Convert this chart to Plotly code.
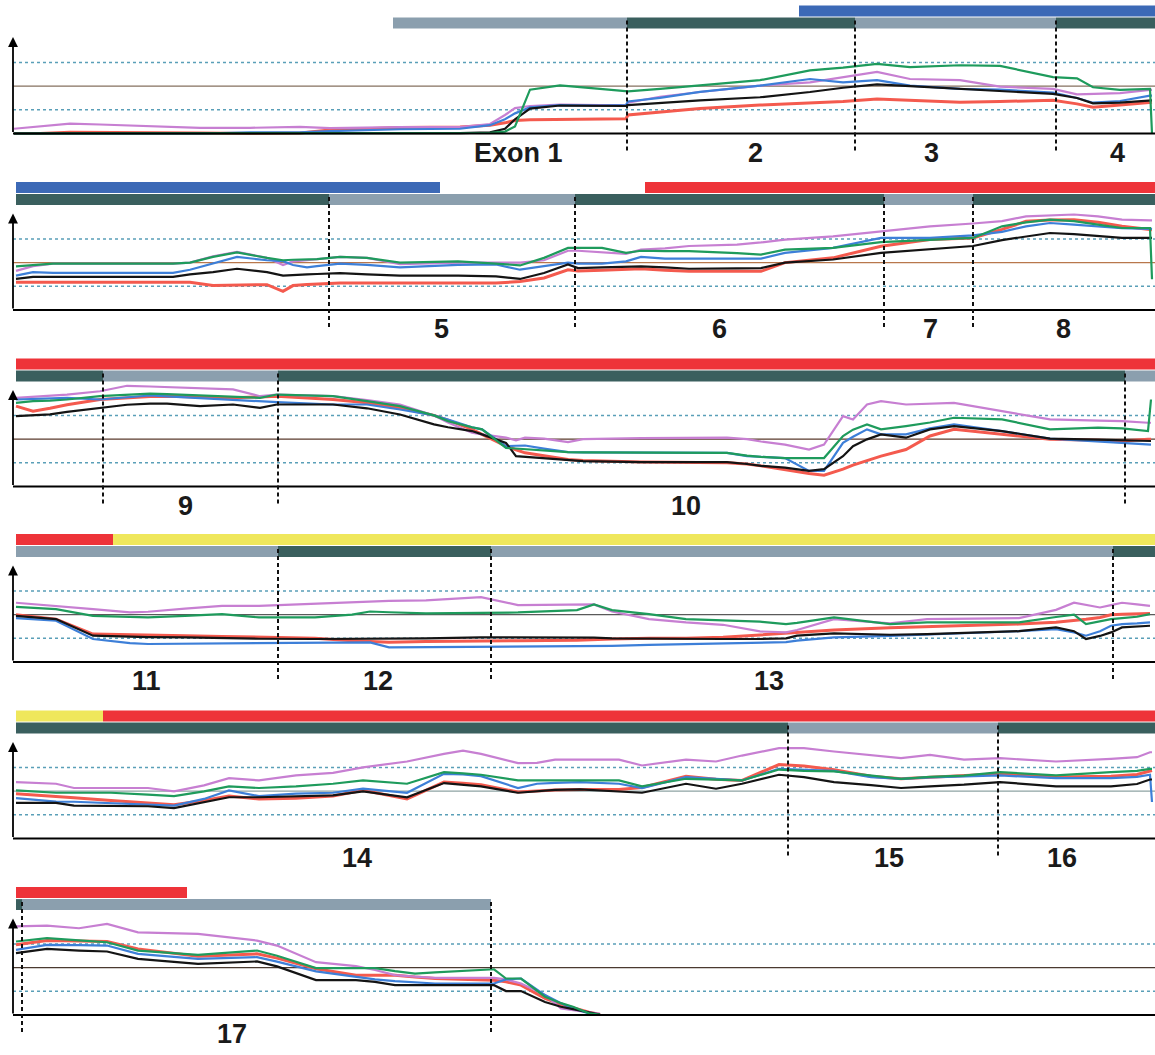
import plotly.graph_objects as go

# ======================= DATA =======================
# Position along the gene (common x units) and signal level (dotted = 1 and 3, solid = 2)

# ---- Panel 1: Exon 1 - 4
P1_X = [14, 40, 70, 100, 150, 200, 250, 300, 330, 400, 460, 490, 505, 515, 530, 560, 600, 626, 628, 660,
        700, 760, 810, 843, 877, 910, 960, 1000, 1053, 1077, 1093, 1120, 1150, 1152]
P1_VIOLET = [0.2, 0.3, 0.42, 0.38, 0.32, 0.24, 0.24, 0.28, 0.23, 0.27, 0.27, 0.4, 0.78, 1.07, 1.16, 1.22, 1.2, 1.2, 1.3, 1.55,
             1.75, 2.02, 2.16, 2.38, 2.6, 2.3, 2.25, 1.98, 1.88, 1.65, 1.68, 1.7, 1.84, 1.84]
P1_GREEN = [0, 0, 0, 0, 0, 0, 0, 0, 0, 0, 0.02, 0.03, 0.08, 0.3, 1.85, 2.03, 1.88, 1.78, 1.78, 1.88,
            2.03, 2.25, 2.66, 2.78, 2.94, 2.8, 2.88, 2.85, 2.38, 2.33, 1.95, 1.84, 1.88, 0]
P1_BLUE = [0, 0, 0, 0, 0, 0, 0.05, 0.05, 0.1, 0.18, 0.2, 0.35, 0.6, 0.85, 1.1, 1.2, 1.18, 1.2, 1.35, 1.5,
           1.76, 2.02, 2.3, 2.16, 2.25, 2.02, 1.88, 1.85, 1.73, 1.5, 1.3, 1.37, 1.6, 1.6]
P1_BLACK = [0, 0, 0, 0, 0, 0, 0, 0, 0, 0, 0.02, 0.05, 0.2, 0.6, 1.05, 1.18, 1.16, 1.16, 1.2, 1.3,
            1.4, 1.53, 1.75, 1.93, 2.07, 2.0, 1.88, 1.8, 1.67, 1.5, 1.27, 1.3, 1.4, 1.4]
P1_RED = [0, 0, 0.05, 0.05, 0.05, 0.02, 0, 0.02, 0.15, 0.25, 0.27, 0.35, 0.45, 0.55, 0.58, 0.6, 0.62, 0.62, 0.78, 0.9,
          1.05, 1.2, 1.3, 1.35, 1.46, 1.4, 1.32, 1.35, 1.4, 1.25, 1.11, 1.2, 1.32, 1.32]
P1_LOWER = [(393, 627, "light"), (627, 855, "dark"), (855, 1056, "light"), (1056, 1155, "dark")]
P1_UPPER = [(799, 1155, "blue")]
P1_BOUNDS = [627, 855, 1056]
P1_LABELS = ["Exon 1", "2", "3", "4"]
P1_LABEL_X = [518, 755, 931, 1117]

# ---- Panel 2: Exon 5 - 8
P2_X = [16, 33, 53, 173, 190, 213, 237, 267, 283, 293, 307, 317, 340, 367, 400, 458, 496, 520, 544, 568,
        578, 602, 626, 641, 665, 689, 737, 761, 785, 833, 881, 930, 973, 1002, 1026, 1050, 1074, 1098, 1122, 1150, 1152]
P2_GREEN = [1.84, 1.9, 1.96, 1.96, 2.0, 2.24, 2.43, 2.2, 2.1, 2.12, 2.13, 2.15, 2.24, 2.2, 2.0, 2.05, 1.96, 1.88, 2.2, 2.62,
            2.62, 2.62, 2.41, 2.5, 2.48, 2.48, 2.4, 2.34, 2.55, 2.62, 2.86, 2.97, 3.04, 3.53, 3.7, 3.81, 3.75, 3.6, 3.46, 3.46, 1.3]
P2_VIOLET = [1.65, 1.85, 1.96, 1.96, 2.0, 2.27, 2.45, 2.2, 1.9, 2.05, 2.1, 2.15, 2.24, 2.2, 1.93, 2.0, 2.0, 2.0, 2.1, 2.5,
             2.5, 2.45, 2.37, 2.55, 2.6, 2.7, 2.76, 2.85, 2.97, 3.11, 3.32, 3.53, 3.65, 3.75, 3.95, 4.0, 4.03, 3.95, 3.81, 3.78, 3.78]
P2_BLUE = [1.45, 1.6, 1.57, 1.57, 1.7, 1.96, 2.24, 2.1, 2.06, 1.9, 1.8, 1.85, 1.96, 1.9, 1.8, 1.9, 1.92, 1.7, 1.85, 2.0,
           1.96, 1.96, 2.05, 2.24, 2.17, 2.17, 2.17, 2.17, 2.41, 2.62, 3.04, 3.04, 3.15, 3.3, 3.53, 3.67, 3.6, 3.53, 3.45, 3.42, 3.42]
P2_BLACK = [1.31, 1.4, 1.4, 1.4, 1.5, 1.6, 1.74, 1.6, 1.45, 1.48, 1.5, 1.52, 1.56, 1.5, 1.45, 1.45, 1.42, 1.31, 1.56, 1.92,
            1.77, 1.8, 1.82, 1.84, 1.8, 1.74, 1.76, 1.77, 2.0, 2.13, 2.41, 2.55, 2.7, 2.95, 3.11, 3.25, 3.2, 3.11, 3.04, 3.04, 3.04]
P2_RED = [1.17, 1.17, 1.17, 1.17, 1.17, 1.03, 1.05, 1.07, 0.79, 1.03, 1.08, 1.1, 1.14, 1.14, 1.14, 1.14, 1.14, 1.2, 1.35, 1.7,
          1.65, 1.68, 1.72, 1.74, 1.68, 1.63, 1.63, 1.63, 2.0, 2.2, 2.69, 2.97, 3.04, 3.4, 3.74, 3.8, 3.81, 3.7, 3.53, 3.39, 3.39]
P2_LOWER = [(16, 329, "dark"), (329, 575, "light"), (575, 884, "dark"), (884, 973, "light"), (973, 1155, "dark")]
P2_UPPER = [(16, 440, "blue"), (645, 1155, "red")]
P2_BOUNDS = [329, 575, 884, 973]
P2_LABELS = ["5", "6", "7", "8"]
P2_LABEL_X = [441, 719, 930, 1063]

# ---- Panel 3: Exon 9 - 10
P3_X = [16, 33, 50, 67, 100, 127, 150, 167, 200, 233, 260, 277, 333, 367, 400, 434, 448, 472, 482, 506,
        516, 525, 544, 568, 583, 641, 727, 747, 761, 785, 809, 824, 843, 853, 867, 881, 906, 930, 954, 1002,
        1050, 1098, 1122, 1148, 1151]
P3_VIOLET = [3.74, 3.78, 3.81, 3.88, 4.02, 4.25, 4.22, 4.2, 4.15, 4.1, 3.81, 3.88, 3.81, 3.65, 3.46, 3.0, 2.7, 2.27, 2.2, 2.06,
             1.95, 2.06, 2.02, 1.87, 2.0, 2.04, 2.06, 2.0, 1.9, 1.77, 1.56, 1.77, 2.97, 2.83, 3.46, 3.6, 3.46, 3.5, 3.53, 3.18,
             2.83, 2.78, 2.76, 2.69, 2.69]
P3_GREEN = [3.53, 3.6, 3.62, 3.67, 3.81, 3.88, 3.92, 3.9, 3.84, 3.8, 3.74, 3.88, 3.81, 3.6, 3.39, 3.0, 2.76, 2.5, 2.41, 1.63,
            1.6, 1.56, 1.5, 1.45, 1.44, 1.42, 1.42, 1.3, 1.25, 1.2, 1.2, 1.2, 2.13, 2.4, 2.62, 2.41, 2.55, 2.7, 2.9, 2.83,
            2.41, 2.48, 2.45, 2.34, 3.67]
P3_BLUE = [3.67, 3.7, 3.72, 3.74, 3.67, 3.75, 3.84, 3.8, 3.72, 3.67, 3.6, 3.56, 3.46, 3.46, 3.25, 3.0, 2.83, 2.5, 2.41, 1.7,
           1.72, 1.73, 1.6, 1.45, 1.44, 1.42, 1.42, 1.28, 1.25, 1.2, 0.66, 0.66, 1.84, 2.1, 2.41, 2.2, 2.2, 2.45, 2.62, 2.34,
           2.02, 1.9, 1.84, 1.77, 1.77]
P3_BLACK = [2.97, 3.0, 3.04, 3.15, 3.32, 3.45, 3.5, 3.5, 3.39, 3.46, 3.32, 3.46, 3.46, 3.3, 3.04, 2.62, 2.5, 2.34, 2.2, 1.84,
            1.28, 1.25, 1.2, 1.12, 1.07, 1.03, 1.03, 0.95, 0.87, 0.8, 0.66, 0.73, 1.28, 1.7, 1.99, 2.2, 2.06, 2.41, 2.55, 2.34,
            2.02, 1.98, 1.96, 1.92, 1.92]
P3_RED = [3.39, 3.18, 3.3, 3.45, 3.67, 3.75, 3.8, 3.81, 3.78, 3.74, 3.78, 3.81, 3.67, 3.53, 3.32, 3.0, 2.8, 2.41, 2.2, 1.7,
          1.55, 1.42, 1.3, 1.14, 1.1, 1.03, 1.0, 0.95, 0.87, 0.7, 0.55, 0.48, 0.73, 0.9, 1.1, 1.28, 1.56, 2.13, 2.41, 2.2,
          1.99, 1.95, 1.92, 1.99, 1.99]
P3_LOWER = [(16, 103, "dark"), (103, 278, "light"), (278, 1125, "dark"), (1125, 1155, "light")]
P3_UPPER = [(16, 1155, "red")]
P3_BOUNDS = [103, 278, 1125]
P3_LABELS = ["9", "10"]
P3_LABEL_X = [185, 686]

# ---- Panel 4: Exon 11 - 13
P4_X = [16, 56, 93, 130, 148, 185, 222, 259, 315, 352, 370, 389, 426, 481, 518, 577, 594, 612, 649, 686,
        723, 760, 786, 797, 834, 890, 927, 1019, 1056, 1074, 1086, 1100, 1111, 1122, 1137, 1150]
P4_VIOLET = [2.5, 2.37, 2.23, 2.09, 2.12, 2.25, 2.37, 2.37, 2.46, 2.52, 2.57, 2.58, 2.6, 2.74, 2.4, 2.43, 2.43, 2.13, 1.81, 1.67,
             1.57, 1.29, 1.25, 1.35, 1.81, 1.63, 1.81, 1.85, 2.2, 2.5, 2.4, 2.3, 2.4, 2.5, 2.43, 2.37]
P4_GREEN = [2.33, 2.23, 1.95, 1.9, 1.88, 1.95, 2.02, 1.88, 1.88, 2.0, 2.13, 2.1, 2.05, 2.07, 2.09, 2.19, 2.43, 2.19, 2.02, 1.81,
            1.74, 1.7, 1.6, 1.65, 1.88, 1.6, 1.67, 1.67, 1.9, 2.0, 1.6, 1.7, 1.81, 1.85, 1.91, 2.02]
P4_BLUE = [1.85, 1.74, 0.97, 0.8, 0.76, 0.77, 0.78, 0.79, 0.8, 0.82, 0.83, 0.62, 0.63, 0.64, 0.65, 0.65, 0.66, 0.68, 0.72, 0.76,
           0.8, 0.82, 0.84, 0.9, 1.04, 1.1, 1.15, 1.3, 1.39, 1.25, 1.11, 1.3, 1.53, 1.6, 1.63, 1.67]
P4_BLACK = [1.95, 1.81, 1.11, 1.06, 1.05, 1.04, 1.0, 0.98, 0.97, 0.97, 0.97, 0.98, 1.0, 1.04, 1.04, 1.04, 1.03, 1.0, 0.98, 0.97,
            0.97, 0.97, 1.0, 1.11, 1.21, 1.15, 1.18, 1.3, 1.46, 1.3, 0.97, 1.1, 1.25, 1.46, 1.5, 1.53]
P4_RED = [1.99, 1.81, 1.18, 1.14, 1.12, 1.11, 1.08, 1.04, 1.0, 0.9, 0.88, 0.83, 0.86, 0.9, 0.9, 0.92, 0.95, 0.97, 1.0, 1.0,
          1.04, 1.15, 1.22, 1.25, 1.35, 1.44, 1.48, 1.6, 1.68, 1.74, 1.8, 1.88, 1.99, 2.02, 2.04, 2.05]
P4_LOWER = [(16, 278, "light"), (278, 491, "dark"), (491, 1113, "light"), (1113, 1155, "dark")]
P4_UPPER = [(16, 113, "red"), (113, 1155, "yellow")]
P4_BOUNDS = [278, 491, 1113]
P4_LABELS = ["11", "12", "13"]
P4_LABEL_X = [146, 378, 769]

# ---- Panel 5: Exon 14 - 16
P5_X = [16, 56, 74, 111, 148, 174, 204, 229, 259, 296, 333, 363, 407, 444, 463, 481, 518, 537, 555, 580,
        619, 642, 686, 716, 742, 779, 804, 834, 871, 901, 930, 964, 1000, 1056, 1111, 1137, 1150, 1152]
P5_VIOLET = [2.38, 2.31, 2.13, 2.13, 2.13, 1.99, 2.24, 2.55, 2.45, 2.66, 2.77, 3.0, 3.25, 3.57, 3.71, 3.57, 3.18, 3.19, 3.33, 3.33,
             3.33, 3.08, 3.33, 3.25, 3.5, 3.81, 3.81, 3.67, 3.5, 3.39, 3.53, 3.33, 3.39, 3.25, 3.36, 3.43, 3.64, 3.64]
P5_GREEN = [2.03, 1.93, 1.93, 1.93, 1.85, 1.79, 1.99, 2.2, 2.13, 2.2, 2.31, 2.45, 2.31, 2.8, 2.75, 2.69, 2.45, 2.45, 2.45, 2.45,
            2.45, 2.2, 2.52, 2.48, 2.45, 2.91, 2.85, 2.83, 2.66, 2.52, 2.6, 2.65, 2.8, 2.66, 2.8, 2.85, 2.94, 2.94]
P5_BLUE = [1.7, 1.56, 1.55, 1.5, 1.42, 1.39, 1.67, 2.03, 1.79, 1.89, 1.93, 2.1, 1.93, 2.73, 2.7, 2.63, 2.13, 2.31, 2.35, 2.38,
           2.31, 2.13, 2.59, 2.5, 2.45, 2.94, 2.9, 2.85, 2.59, 2.52, 2.58, 2.63, 2.66, 2.55, 2.55, 2.6, 2.69, 1.54]
P5_BLACK = [1.5, 1.5, 1.39, 1.38, 1.36, 1.28, 1.53, 1.74, 1.74, 1.79, 1.82, 1.99, 1.74, 2.34, 2.28, 2.2, 1.93, 2.0, 2.05, 2.07,
            1.99, 1.93, 2.31, 2.1, 2.31, 2.69, 2.59, 2.38, 2.25, 2.13, 2.2, 2.27, 2.38, 2.2, 2.2, 2.3, 2.49, 2.49]
P5_RED = [1.89, 1.79, 1.72, 1.6, 1.48, 1.42, 1.6, 1.79, 1.67, 1.7, 1.79, 2.03, 1.67, 2.38, 2.33, 2.27, 1.96, 2.0, 2.05, 2.07,
          2.07, 2.15, 2.63, 2.5, 2.45, 3.12, 3.06, 2.9, 2.63, 2.52, 2.58, 2.63, 2.73, 2.59, 2.63, 2.7, 2.87, 2.87]
P5_LOWER = [(16, 788, "dark"), (788, 998, "light"), (998, 1155, "dark")]
P5_UPPER = [(16, 103, "yellow"), (103, 1155, "red")]
P5_BOUNDS = [788, 998]
P5_LABELS = ["14", "15", "16"]
P5_LABEL_X = [357, 889, 1062]

# ---- Panel 6: Exon 17
P6_X = [16, 47, 79, 107, 138, 198, 257, 277, 316, 356, 375, 395, 415, 435, 494, 506, 521, 545, 561, 573, 589, 600]
P6_VIOLET = [3.74, 3.77, 3.66, 3.84, 3.49, 3.42, 3.14, 2.93, 2.23, 2.06, 1.9, 1.68, 1.62, 1.57, 1.57, 1.5, 1.33, 0.85, 0.28, 0.2, 0.1, 0.05]
P6_GREEN = [3.1, 3.24, 3.15, 3.07, 2.72, 2.54, 2.72, 2.5, 1.98, 1.98, 1.98, 1.85, 1.75, 1.8, 1.93, 1.54, 1.54, 0.77, 0.5, 0.35, 0.07, 0.02]
P6_BLUE = [2.75, 2.96, 2.95, 2.93, 2.58, 2.37, 2.44, 2.25, 1.84, 1.6, 1.5, 1.43, 1.38, 1.33, 1.33, 1.5, 1.54, 0.84, 0.5, 0.28, 0.07, 0.02]
P6_BLACK = [2.61, 2.79, 2.72, 2.68, 2.37, 2.16, 2.26, 2.05, 1.47, 1.47, 1.4, 1.26, 1.26, 1.26, 1.26, 1.01, 1.01, 0.55, 0.35, 0.25, 0.12, 0.02]
P6_RED = [2.96, 3.14, 3.12, 3.1, 2.79, 2.48, 2.58, 2.4, 1.95, 1.68, 1.68, 1.68, 1.6, 1.54, 1.47, 1.4, 1.26, 0.7, 0.45, 0.3, 0.12, 0.02]
P6_LOWER = [(16, 22, "dark"), (22, 491, "light")]
P6_UPPER = [(16, 187, "red")]
P6_BOUNDS = [22, 491]
P6_LABELS = ["17"]
P6_LABEL_X = [232]

REF_DOTTED = [1, 3]
REF_SOLID = 2

# ======================= STYLE / LAYOUT =======================
W, H = 1155, 1055
U = 23.7                                  # px per signal unit
BASES = [133.5, 310, 486.5, 662, 838.5, 1015]   # baseline pixel row of each panel
AXIS_X = 13
X_MAX = 1155
Y_LO, Y_HI = -40 / U, 130 / U
UPPER_Y = (4.94, 5.40)
LOWER_Y = (4.43, 4.89)
ARROW_TOP = 4.07
DASH_Y = (-0.72, 4.89)
LABEL_Y = -0.82

TRACK_COLORS = {"dark": "#3a5f5e", "light": "#8b9fae", "blue": "#3c69b6",
                "red": "#ee3339", "yellow": "#efe75c"}
LINE_STYLE = [("red", "#f45a4e", 3.0), ("violet", "#c77fd2", 2.2), ("blue", "#3d7fd8", 2.2),
              ("black", "#141414", 2.2), ("green", "#1e9b5c", 2.2)]
SOLID_COLORS = ["#85705f", "#b8774c", "#5a3a2c", "#5a5a5a", "#8ea3a3", "#4a3a30"]
DOT_COLOR = "#5a9fb8"

PANELS = [
    (P1_X, dict(green=P1_GREEN, violet=P1_VIOLET, blue=P1_BLUE, black=P1_BLACK, red=P1_RED),
     P1_LOWER, P1_UPPER, P1_BOUNDS, P1_LABELS, P1_LABEL_X),
    (P2_X, dict(green=P2_GREEN, violet=P2_VIOLET, blue=P2_BLUE, black=P2_BLACK, red=P2_RED),
     P2_LOWER, P2_UPPER, P2_BOUNDS, P2_LABELS, P2_LABEL_X),
    (P3_X, dict(green=P3_GREEN, violet=P3_VIOLET, blue=P3_BLUE, black=P3_BLACK, red=P3_RED),
     P3_LOWER, P3_UPPER, P3_BOUNDS, P3_LABELS, P3_LABEL_X),
    (P4_X, dict(green=P4_GREEN, violet=P4_VIOLET, blue=P4_BLUE, black=P4_BLACK, red=P4_RED),
     P4_LOWER, P4_UPPER, P4_BOUNDS, P4_LABELS, P4_LABEL_X),
    (P5_X, dict(green=P5_GREEN, violet=P5_VIOLET, blue=P5_BLUE, black=P5_BLACK, red=P5_RED),
     P5_LOWER, P5_UPPER, P5_BOUNDS, P5_LABELS, P5_LABEL_X),
    (P6_X, dict(green=P6_GREEN, violet=P6_VIOLET, blue=P6_BLUE, black=P6_BLACK, red=P6_RED),
     P6_LOWER, P6_UPPER, P6_BOUNDS, P6_LABELS, P6_LABEL_X),
]

fig = go.Figure()
shapes, annotations = [], []
layout_axes = {}

for i, (xs, series, lower, upper, bounds, labels, label_x) in enumerate(PANELS, start=1):
    xa = "x" if i == 1 else f"x{i}"
    ya = "y" if i == 1 else f"y{i}"
    B = BASES[i - 1]
    dom = [max(0.0, (H - B - 40) / H), min(1.0, (H - B + 130) / H)]
    layout_axes["xaxis" if i == 1 else f"xaxis{i}"] = dict(domain=[0, 1], range=[0, X_MAX], visible=False,
                                                          anchor=ya, fixedrange=True)
    layout_axes["yaxis" if i == 1 else f"yaxis{i}"] = dict(domain=dom, range=[Y_LO, Y_HI], visible=False,
                                                          anchor=xa, fixedrange=True)

    # reference levels
    for lv in REF_DOTTED:
        shapes.append(dict(type="line", xref=xa, yref=ya, x0=AXIS_X, x1=X_MAX, y0=lv, y1=lv,
                           line=dict(color=DOT_COLOR, width=1.5, dash="dot"), layer="below"))
    shapes.append(dict(type="line", xref=xa, yref=ya, x0=AXIS_X, x1=X_MAX, y0=REF_SOLID, y1=REF_SOLID,
                       line=dict(color=SOLID_COLORS[i - 1], width=1.3), layer="below"))

    # baseline axis
    shapes.append(dict(type="line", xref=xa, yref=ya, x0=AXIS_X, x1=X_MAX, y0=0, y1=0,
                       line=dict(color="black", width=2), layer="above"))
    # vertical axis with arrow
    annotations.append(dict(xref=xa, yref=ya, axref=xa, ayref=ya, x=AXIS_X, y=ARROW_TOP,
                            ax=AXIS_X, ay=0, text="", showarrow=True, arrowhead=2, arrowsize=1.1,
                            arrowwidth=1.8, arrowcolor="black", standoff=0, startstandoff=0))

    # gene tracks
    for (s, e, kind) in upper:
        shapes.append(dict(type="rect", xref=xa, yref=ya, x0=s, x1=e, y0=UPPER_Y[0], y1=UPPER_Y[1],
                           fillcolor=TRACK_COLORS[kind], line=dict(width=0)))
    for (s, e, kind) in lower:
        shapes.append(dict(type="rect", xref=xa, yref=ya, x0=s, x1=e, y0=LOWER_Y[0], y1=LOWER_Y[1],
                           fillcolor=TRACK_COLORS[kind], line=dict(width=0)))

    # data lines
    for name, color, width in LINE_STYLE:
        fig.add_trace(go.Scatter(x=xs, y=series[name], mode="lines", xaxis=xa, yaxis=ya,
                                 line=dict(color=color, width=width), showlegend=False,
                                 hoverinfo="skip"))

    # exon boundaries
    for bx in bounds:
        shapes.append(dict(type="line", xref=xa, yref=ya, x0=bx, x1=bx, y0=DASH_Y[0], y1=DASH_Y[1],
                           line=dict(color="#111111", width=2, dash="4px,3px"), layer="above"))

    # exon labels
    for txt, lx in zip(labels, label_x):
        annotations.append(dict(xref=xa, yref=ya, x=lx, y=LABEL_Y, text=f"<b>{txt}</b>", showarrow=False,
                                xanchor="center", yanchor="middle",
                                font=dict(family="Liberation Sans, Arial, sans-serif", size=27,
                                          color="#1a1a1a")))

fig.update_layout(width=W, height=H, margin=dict(l=0, r=0, t=0, b=0),
                  paper_bgcolor="white", plot_bgcolor="white", showlegend=False,
                  hovermode=False, shapes=shapes, annotations=annotations, **layout_axes)

fig.write_html("out.html", config={"displayModeBar": False},
               post_script="document.body.style.margin='0';document.body.style.overflow='hidden';")
